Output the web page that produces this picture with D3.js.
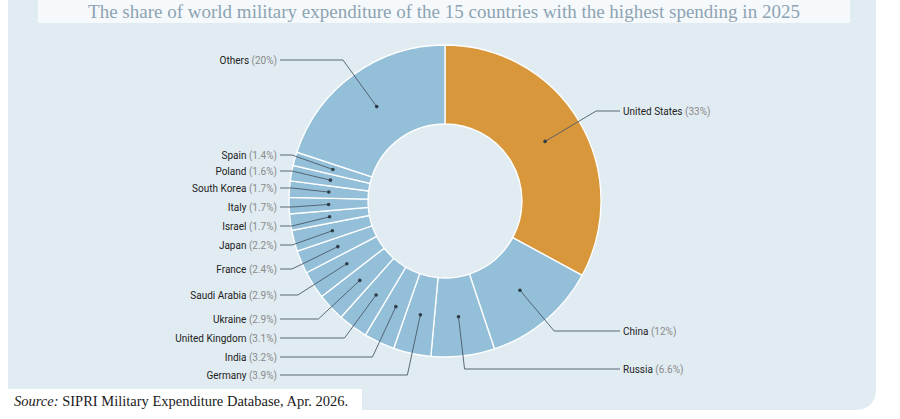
<!DOCTYPE html>
<html>
<head>
<meta charset="utf-8">
<script src="https://cdn.jsdelivr.net/npm/d3@7"></script>
<style>
  body { margin: 0; background: #fff; }
  svg { display: block; }
</style>
</head>
<body>
<svg id="chart" width="900" height="419"></svg>
<script>
// data
const countries = ['United States', 'China', 'Russia', 'Germany', 'India', 'United Kingdom',
  'Ukraine', 'Saudi Arabia', 'France', 'Japan', 'Israel', 'Italy', 'South Korea',
  'Poland', 'Spain', 'Others'];
const shares = [33, 12, 6.6, 3.9, 3.2, 3.1, 2.9, 2.9, 2.4, 2.2, 1.7, 1.7, 1.7, 1.6, 1.4, 20];
const shareLabels = ['33%', '12%', '6.6%', '3.9%', '3.2%', '3.1%', '2.9%', '2.9%', '2.4%',
  '2.2%', '1.7%', '1.7%', '1.7%', '1.6%', '1.4%', '20%'];
// label rows (layout)
const labelY = [111, 331, 369, 375, 357, 338, 319, 295, 269, 245, 226, 207, 188, 171, 155, 60];

const width = 900, height = 419;
const cx = 445, cy = 201, outerR = 156, innerR = 77;
const leftX = 277, rightX = 623;

const svg = d3.select('#chart');

// panel
svg.append('path')
  .attr('d', `M8,0 H876 V388 Q876,410 854,410 H8 Z`)
  .attr('fill', '#e1ecf2');

// title band
svg.append('rect').attr('x', 38).attr('y', 0).attr('width', 812).attr('height', 23).attr('fill', '#f6f9fb');
svg.append('text')
  .attr('x', 444).attr('y', 18)
  .attr('text-anchor', 'middle')
  .attr('font-family', 'Liberation Serif, serif')
  .attr('font-size', 19)
  .attr('fill', '#8ca3b3')
  .text('The share of world military expenditure of the 15 countries with the  highest spending in 2025');

const pie = d3.pie().sort(null).value((d) => d)(shares);
const arc = d3.arc().innerRadius(innerR).outerRadius(outerR);
const mid = (innerR + outerR) / 2;

const g = svg.append('g').attr('transform', `translate(${cx},${cy})`);

g.selectAll('path.slice')
  .data(pie)
  .enter()
  .append('path')
  .attr('class', 'slice')
  .attr('d', arc)
  .attr('fill', (d, i) => (i === 0 ? '#d9973b' : '#94bfd9'))
  .attr('stroke', '#fff')
  .attr('stroke-width', 1.3);

pie.forEach((d, i) => {
  const a = (d.startAngle + d.endAngle) / 2;
  const dx = Math.sin(a), dy = -Math.cos(a);
  const px = cx + dx * mid, py = cy + dy * mid;
  const right = dx > 0;
  const ly = labelY[i];
  const t = Math.abs(dy) > 0.01 ? (ly - py) / (dy * mid) : 0;
  let ex = px + dx * mid * Math.max(t, 0);
  if (right) ex = Math.min(ex, rightX - 20); else ex = Math.max(ex, leftX + 15);
  const endX = right ? rightX - 3 : leftX + 3;

  svg.append('polyline')
    .attr('points', `${px},${py} ${ex},${ly} ${endX},${ly}`)
    .attr('fill', 'none')
    .attr('stroke', '#4a5a66')
    .attr('stroke-width', 0.9);
  svg.append('circle').attr('cx', px).attr('cy', py).attr('r', 1.8).attr('fill', '#2f3d48');

  const txt = svg.append('text')
    .attr('x', right ? rightX : leftX)
    .attr('y', ly + 3.5)
    .attr('text-anchor', right ? 'start' : 'end')
    .attr('font-family', 'Roboto, Liberation Sans, sans-serif')
    .attr('font-size', 10);
  txt.append('tspan').attr('fill', '#222').text(countries[i] + ' ');
  txt.append('tspan').attr('fill', '#8a8a8a').text(`(${shareLabels[i]})`);
});

// source
svg.append('rect').attr('x', 8).attr('y', 389).attr('width', 354).attr('height', 23).attr('fill', '#fff');
const src = svg.append('text')
  .attr('x', 14).attr('y', 406)
  .attr('font-family', 'Liberation Serif, serif')
  .attr('font-size', 14.5)
  .attr('fill', '#1a1a1a');
src.append('tspan').attr('font-style', 'italic').text('Source:');
src.append('tspan').text(' SIPRI Military Expenditure Database, Apr. 2026.');
</script>
</body>
</html>
